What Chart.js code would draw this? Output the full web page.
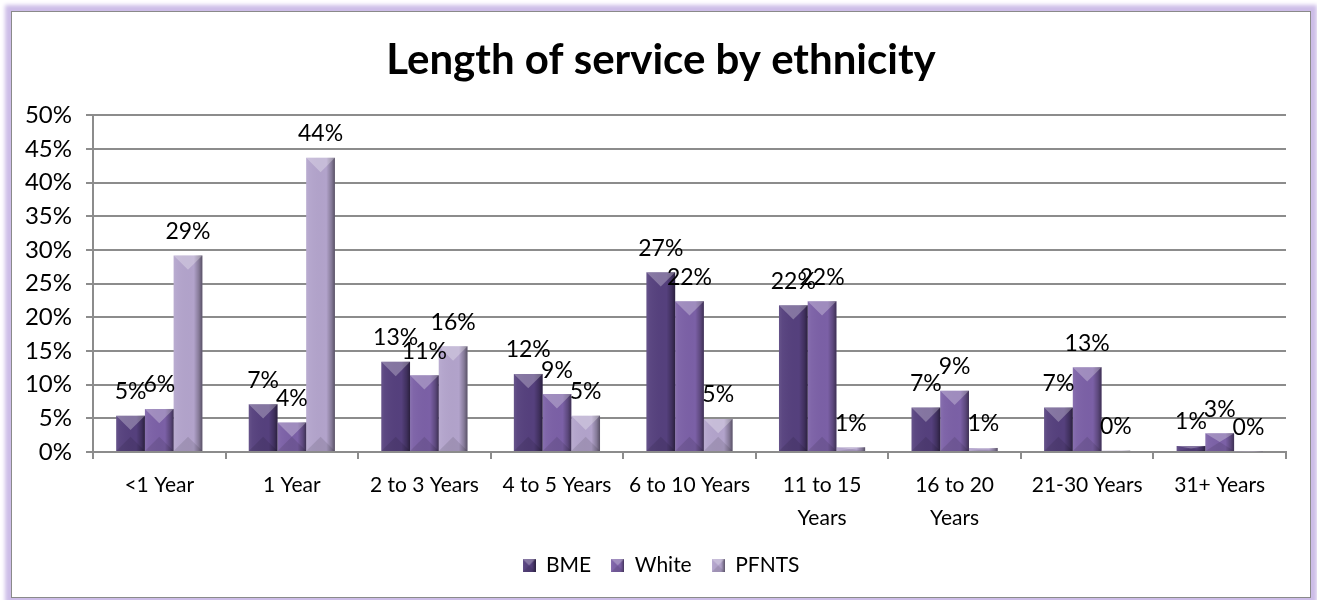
<!DOCTYPE html>
<html>
<head>
<meta charset="utf-8">
<title>Length of service by ethnicity</title>
<script src="https://cdn.jsdelivr.net/npm/chart.js@4.4.1/dist/chart.umd.min.js"></script>
<style>
  html, body { margin: 0; padding: 0; background: #fff; }
  .frame {
    position: absolute; left: 11px; top: 11px;
    width: 1298px; height: 585px;
    border: 1px solid #8a8a8a;
    box-shadow: 0 0 4px 6px #cdbde8;
    background: #fff;
  }
  canvas { display: block; }
</style>
</head>
<body>
<div class="frame"><canvas id="chart" width="1298" height="585"></canvas></div>
<script>
const categories = ['<1 Year', '1 Year', '2 to 3 Years', '4 to 5 Years', '6 to 10 Years',
  ['11 to 15', 'Years'], ['16 to 20', 'Years'], '21-30 Years', '31+ Years'];
const seriesNames = ['BME', 'White', 'PFNTS'];
const bme   = [5.4, 7.1, 13.4, 11.6, 26.7, 21.8, 6.6, 6.6, 0.9];
const white = [6.4, 4.4, 11.4, 8.6, 22.4, 22.4, 9.1, 12.6, 2.8];
const pfnts = [29.2, 43.7, 15.7, 5.4, 4.9, 0.7, 0.6, 0.2, 0.1];
const yTicks = [0, 5, 10, 15, 20, 25, 30, 35, 40, 45, 50];
const seriesColors = ['#55407d', '#7b60a6', '#b2a3cb'];

const FONT = 'Lato, "Open Sans", sans-serif';

// pyramid-style bevel laid over a plain rectangle
function bevel(ctx, left, top, right, bottom) {
  const w = right - left, h = bottom - top;
  if (w <= 0 || h <= 0) return;
  const cx = (left + right) / 2;
  const d = Math.min(w / 2, h / 2);
  ctx.save();
  const g = ctx.createLinearGradient(left, 0, right, 0);
  g.addColorStop(0, 'rgba(255,255,255,0.10)');
  g.addColorStop(0.12, 'rgba(255,255,255,0.04)');
  g.addColorStop(0.7, 'rgba(0,0,0,0.0)');
  g.addColorStop(0.88, 'rgba(0,0,0,0.25)');
  g.addColorStop(1, 'rgba(0,0,0,0.5)');
  ctx.fillStyle = g;
  ctx.fillRect(left, top, w, h);
  // top facet
  ctx.beginPath();
  ctx.moveTo(left, top);
  ctx.lineTo(right, top);
  ctx.lineTo(cx, top + d);
  ctx.closePath();
  ctx.fillStyle = 'rgba(255,255,255,0.28)';
  ctx.fill();
  // bottom facet
  ctx.beginPath();
  ctx.moveTo(left, bottom);
  ctx.lineTo(right, bottom);
  ctx.lineTo(cx, bottom - d);
  ctx.closePath();
  ctx.fillStyle = 'rgba(0,0,0,0.10)';
  ctx.fill();
  ctx.restore();
}

// small bevelled squares for the legend
function legendSwatch(color) {
  const c = document.createElement('canvas');
  c.width = 13; c.height = 13;
  const x = c.getContext('2d');
  x.fillStyle = color;
  x.fillRect(0, 0, 13, 13);
  bevel(x, 0, 0, 13, 13);
  return c;
}

const bevelAndLabels = {
  id: 'bevelAndLabels',
  afterDatasetsDraw(chart) {
    const ctx = chart.ctx;
    chart.data.datasets.forEach((ds, i) => {
      chart.getDatasetMeta(i).data.forEach(bar => {
        const half = bar.width / 2;
        bevel(ctx, bar.x - half, Math.min(bar.y, bar.base), bar.x + half, Math.max(bar.y, bar.base));
      });
    });
    ctx.save();
    ctx.font = '23px ' + FONT;
    ctx.fillStyle = '#000';
    ctx.textAlign = 'center';
    ctx.textBaseline = 'middle';
    chart.data.datasets.forEach((ds, i) => {
      chart.getDatasetMeta(i).data.forEach((bar, j) => {
        ctx.fillText(Math.round(ds.data[j]) + '%', bar.x, bar.y - 24);
      });
    });
    ctx.restore();
  }
};

const seriesData = [bme, white, pfnts];

new Chart(document.getElementById('chart'), {
  type: 'bar',
  data: {
    labels: categories,
    datasets: seriesNames.map((name, i) => ({
      label: name,
      data: seriesData[i],
      backgroundColor: seriesColors[i],
      borderWidth: 0,
      barPercentage: 1,
      categoryPercentage: 0.65,
      pointStyle: legendSwatch(seriesColors[i])
    }))
  },
  options: {
    responsive: false,
    devicePixelRatio: 1,
    animation: false,
    layout: { padding: { left: 0, right: 0, top: 0, bottom: 11 } },
    plugins: {
      title: {
        display: true,
        text: 'Length of service by ethnicity',
        color: '#000',
        font: { family: FONT, size: 42, weight: 'bold' },
        padding: { top: 23, bottom: 30 }
      },
      legend: {
        position: 'bottom',
        labels: {
          usePointStyle: true,
          boxHeight: 13,
          boxWidth: 13,
          color: '#000',
          font: { family: FONT, size: 21 },
          padding: 20
        }
      },
      tooltip: { enabled: false }
    },
    scales: {
      x: {
        afterFit(scale) { scale.height = 83; },
        grid: {
          offset: true,
          drawOnChartArea: false,
          drawTicks: true,
          tickLength: 7,
          color: '#8c8c8c',
          lineWidth: 2
        },
        border: { color: '#8c8c8c', width: 2 },
        ticks: {
          color: '#000',
          font: { family: FONT, size: 21, lineHeight: 1.55 },
          padding: 10,
          maxRotation: 0,
          autoSkip: false
        }
      },
      y: {
        min: 0,
        max: 50,
        afterFit(scale) { scale.width = 81; },
        afterBuildTicks(scale) { scale.ticks = yTicks.map(v => ({ value: v })); },
        grid: { color: '#8c8c8c', lineWidth: 2, tickLength: 7 },
        border: { color: '#8c8c8c', width: 2 },
        ticks: {
          color: '#000',
          font: { family: FONT, size: 24 },
          padding: 14,
          callback: v => v + '%'
        }
      },
      // empty strip on the right so the plot ends short of the frame
      gutter: {
        type: 'linear',
        position: 'right',
        afterFit(scale) { scale.width = 24; },
        grid: { display: false },
        border: { display: false },
        ticks: { display: false }
      }
    }
  },
  plugins: [bevelAndLabels]
});
</script>
</body>
</html>
